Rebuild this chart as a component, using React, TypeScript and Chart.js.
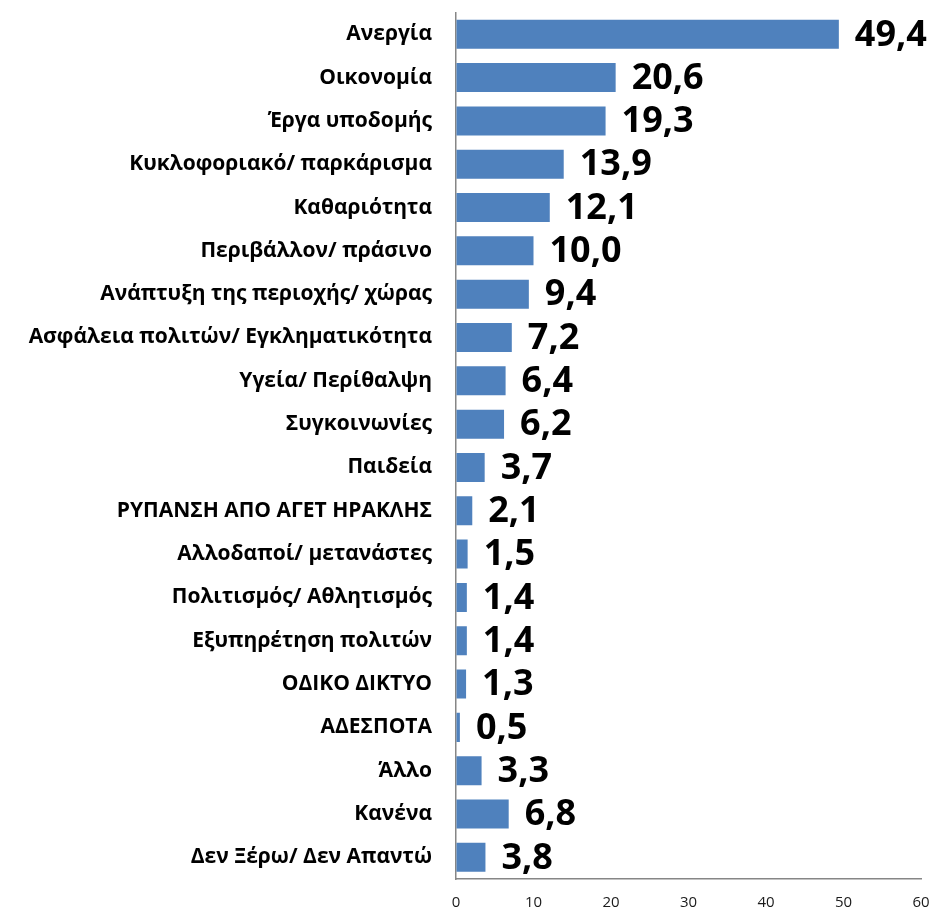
import React, { useEffect, useRef } from "react";
import { Chart, registerables } from "chart.js";

Chart.register(...registerables);

const categories = [
  "Ανεργία",
  "Οικονομία",
  "Έργα υποδομής",
  "Κυκλοφοριακό/ παρκάρισμα",
  "Καθαριότητα",
  "Περιβάλλον/ πράσινο",
  "Ανάπτυξη της περιοχής/ χώρας",
  "Ασφάλεια πολιτών/ Εγκληματικότητα",
  "Υγεία/ Περίθαλψη",
  "Συγκοινωνίες",
  "Παιδεία",
  "ΡΥΠΑΝΣΗ ΑΠΟ ΑΓΕΤ ΗΡΑΚΛΗΣ",
  "Αλλοδαποί/ μετανάστες",
  "Πολιτισμός/ Αθλητισμός",
  "Εξυπηρέτηση πολιτών",
  "ΟΔΙΚΟ ΔΙΚΤΥΟ",
  "ΑΔΕΣΠΟΤΑ",
  "Άλλο",
  "Κανένα",
  "Δεν Ξέρω/ Δεν Απαντώ",
];

const values = [49.4, 20.6, 19.3, 13.9, 12.1, 10.0, 9.4, 7.2, 6.4, 6.2, 3.7, 2.1, 1.5, 1.4, 1.4, 1.3, 0.5, 3.3, 6.8, 3.8];

const xMin = 0;
const xMax = 60;
const xStep = 10;

const FONT = "'Open Sans', 'Noto Sans', sans-serif";

const valueLabels = {
  id: "valueLabels",
  afterDatasetsDraw(chart: any) {
    const ctx = chart.ctx;
    const meta = chart.getDatasetMeta(0);
    ctx.save();
    ctx.font = `bold 36px ${FONT}`;
    ctx.fillStyle = "#000";
    ctx.textAlign = "left";
    ctx.textBaseline = "middle";
    meta.data.forEach((bar: any, i: number) => {
      const txt = values[i].toFixed(1).replace(".", ",");
      ctx.fillText(txt, bar.x + 16, bar.y + 1);
    });
    ctx.restore();
  },
};

export default function App() {
  const ref = useRef<HTMLCanvasElement | null>(null);
  useEffect(() => {
    document.body.style.margin = "0";
    const chart = new Chart(ref.current!, {
      type: "bar",
      data: {
        labels: categories,
        datasets: [
          {
            data: values,
            backgroundColor: "#4F81BD",
            borderWidth: 0,
            barPercentage: 0.67,
            categoryPercentage: 1,
          },
        ],
      },
      options: {
        indexAxis: "y",
        animation: false,
        responsive: false,
        layout: { padding: { top: 10, right: 13, left: 0, bottom: 0 } },
        plugins: { legend: { display: false }, tooltip: { enabled: false } },
        scales: {
          x: {
            min: xMin,
            max: xMax,
            ticks: {
              stepSize: xStep,
              padding: 0,
              color: "#1a1a1a",
              font: { family: FONT, size: 15 },
            },
            grid: {
              display: true,
              drawOnChartArea: false,
              drawTicks: true,
              tickLength: 15,
              color: "rgba(0,0,0,0)",
            },
            border: { display: true, color: "#868686", width: 1.5 },
            afterFit: (s: any) => {
              s.height = 31;
            },
          },
          y: {
            ticks: {
              autoSkip: false,
              padding: 0,
              color: "#000",
              font: { family: FONT, size: 21, weight: "bold" },
            },
            grid: {
              display: true,
              drawOnChartArea: false,
              drawTicks: true,
              tickLength: 24,
              color: "rgba(0,0,0,0)",
            },
            border: { display: true, color: "#868686", width: 1.5 },
            afterFit: (s: any) => {
              s.width = 456;
            },
          },
        },
      },
      plugins: [valueLabels],
    });
    return () => chart.destroy();
  }, []);
  return (
    <div style={{ position: "absolute", left: 0, top: 0, width: 934, height: 910 }}>
      <canvas ref={ref} width={934} height={910} style={{ width: 934, height: 910 }} />
    </div>
  );
}
